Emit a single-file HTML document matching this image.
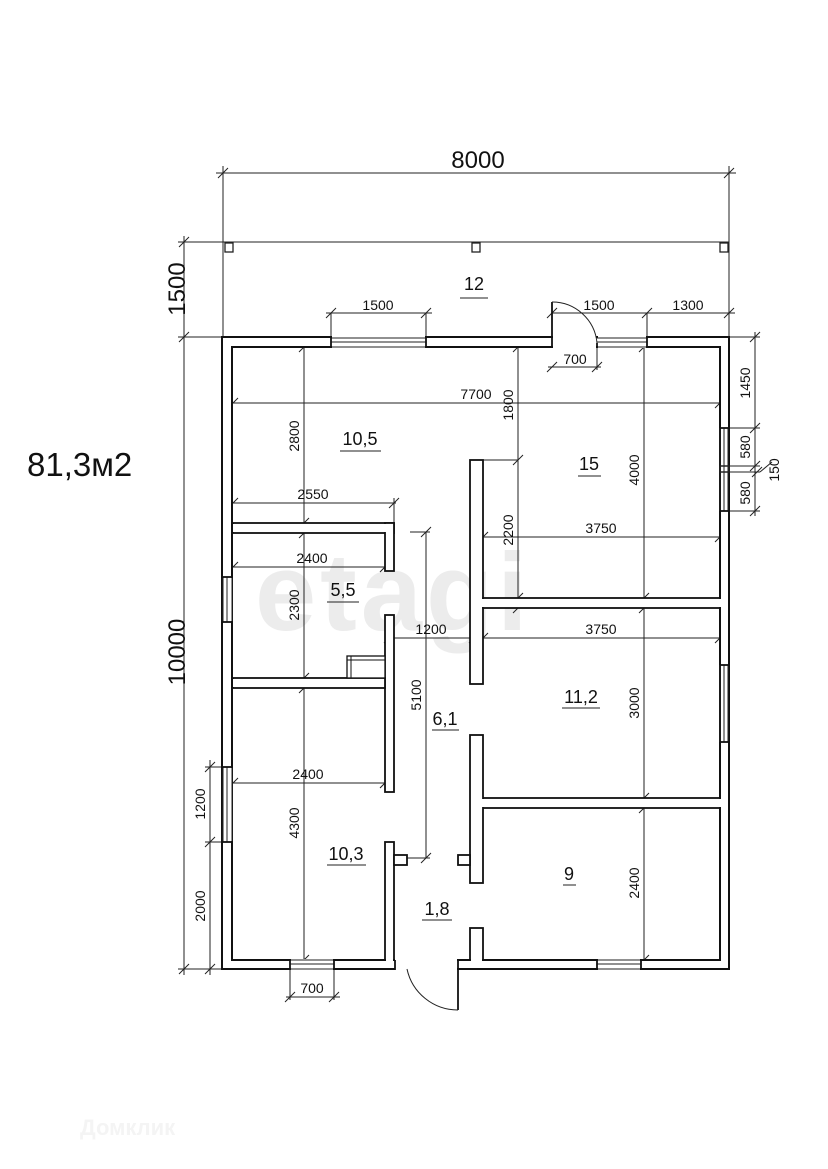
<!DOCTYPE html>
<html><head><meta charset="utf-8"><style>
html,body{margin:0;padding:0;background:#fff;}
svg{display:block;}
text{font-family:"Liberation Sans",Arial,sans-serif;fill:#111;}
</style></head><body>
<svg width="828" height="1169" viewBox="0 0 828 1169" xmlns="http://www.w3.org/2000/svg">
<!-- watermark -->
<text x="255" y="630" font-size="110" font-weight="bold" style="fill:#ececec" letter-spacing="4">etagi</text>
<text x="80" y="1135" font-size="22" font-weight="bold" style="fill:#f4f4f4">Домклик</text>

<text x="27" y="476" font-size="33">81,3м2</text>

<g stroke="#222" stroke-width="1" fill="none">
<!-- 8000 -->
<line x1="216" y1="173" x2="736" y2="173"/>
<line x1="223" y1="166" x2="223" y2="337"/>
<line x1="729" y1="166" x2="729" y2="337"/>
<line x1="218" y1="178" x2="228" y2="168"/><line x1="724" y1="178" x2="734" y2="168"/>
<!-- post line -->
<line x1="178" y1="242" x2="729" y2="242"/>
<!-- 1500 left -->
<line x1="184" y1="236" x2="184" y2="345"/>
<line x1="179" y1="247" x2="189" y2="237"/><line x1="179" y1="342" x2="189" y2="332"/>
<line x1="178" y1="337" x2="222" y2="337"/>
<!-- 10000 -->
<line x1="184" y1="337" x2="184" y2="975"/>
<line x1="179" y1="974" x2="189" y2="964"/>
<line x1="178" y1="969" x2="222" y2="969"/>
<!-- 1200 / 2000 left -->
<line x1="210" y1="760" x2="210" y2="975"/>
<line x1="205" y1="772" x2="215" y2="762"/><line x1="205" y1="847" x2="215" y2="837"/><line x1="205" y1="974" x2="215" y2="964"/>
<line x1="205" y1="767" x2="223" y2="767"/><line x1="205" y1="842" x2="223" y2="842"/>
<!-- top 1500 -->
<line x1="326" y1="313" x2="432" y2="313"/>
<line x1="331" y1="313" x2="331" y2="337"/><line x1="426" y1="313" x2="426" y2="337"/>
<line x1="326" y1="318" x2="336" y2="308"/><line x1="421" y1="318" x2="431" y2="308"/>
<!-- 1500 / 1300 right -->
<line x1="552" y1="313" x2="735" y2="313"/>
<line x1="647" y1="313" x2="647" y2="337"/>
<line x1="547" y1="318" x2="557" y2="308"/><line x1="642" y1="318" x2="652" y2="308"/><line x1="724" y1="318" x2="734" y2="308"/>
<!-- 700 door -->
<line x1="548" y1="367" x2="601" y2="367"/>
<line x1="597" y1="343" x2="597" y2="370"/>
<line x1="547" y1="372" x2="557" y2="362"/><line x1="592" y1="372" x2="602" y2="362"/>
<!-- right side dims -->
<line x1="729" y1="337" x2="760" y2="337"/>
<line x1="755" y1="332" x2="755" y2="516"/>
<line x1="729" y1="428" x2="760" y2="428"/><line x1="729" y1="466" x2="760" y2="466"/><line x1="729" y1="472" x2="760" y2="472"/><line x1="729" y1="511" x2="760" y2="511"/>
<line x1="750" y1="342" x2="760" y2="332"/><line x1="750" y1="433" x2="760" y2="423"/><line x1="750" y1="471" x2="760" y2="461"/><line x1="752" y1="477" x2="762" y2="467"/><line x1="750" y1="516" x2="760" y2="506"/>
<line x1="760" y1="472" x2="772" y2="462"/>
<!-- 7700 -->
<line x1="233" y1="403" x2="720" y2="403"/>
<line x1="228" y1="408" x2="238" y2="398"/><line x1="715" y1="408" x2="725" y2="398"/>
<!-- 2800 / 2300 / 4300 at x304 -->
<line x1="304" y1="347" x2="304" y2="960"/>
<line x1="299" y1="352" x2="309" y2="342"/><line x1="299" y1="528" x2="309" y2="518"/><line x1="299" y1="538" x2="309" y2="528"/><line x1="299" y1="683" x2="309" y2="673"/><line x1="299" y1="693" x2="309" y2="683"/><line x1="299" y1="965" x2="309" y2="955"/>
<!-- 1800 / 2200 x518 -->
<line x1="518" y1="347" x2="518" y2="608"/>
<line x1="470" y1="460" x2="518" y2="460"/>
<line x1="513" y1="352" x2="523" y2="342"/><line x1="513" y1="465" x2="523" y2="455"/><line x1="513" y1="603" x2="523" y2="593"/><line x1="513" y1="613" x2="523" y2="603"/>
<!-- 4000 / 3000 / 2400 x644 -->
<line x1="644" y1="347" x2="644" y2="960"/>
<line x1="639" y1="352" x2="649" y2="342"/><line x1="639" y1="603" x2="649" y2="593"/><line x1="639" y1="613" x2="649" y2="603"/><line x1="639" y1="803" x2="649" y2="793"/><line x1="639" y1="813" x2="649" y2="803"/><line x1="639" y1="965" x2="649" y2="955"/>
<!-- 2550 -->
<line x1="233" y1="503" x2="396" y2="503"/>
<line x1="394" y1="498" x2="394" y2="523"/>
<line x1="228" y1="508" x2="238" y2="498"/><line x1="389" y1="508" x2="399" y2="498"/>
<!-- 2400 upper -->
<line x1="233" y1="567" x2="385" y2="567"/>
<line x1="228" y1="572" x2="238" y2="562"/><line x1="380" y1="572" x2="390" y2="562"/>
<!-- 3750 upper -->
<line x1="483" y1="537" x2="720" y2="537"/>
<line x1="478" y1="542" x2="488" y2="532"/><line x1="715" y1="542" x2="725" y2="532"/>
<!-- 1200 / 3750 lower -->
<line x1="389" y1="638" x2="720" y2="638"/>
<line x1="384" y1="643" x2="394" y2="633"/><line x1="469" y1="643" x2="479" y2="633"/><line x1="478" y1="643" x2="488" y2="633"/><line x1="715" y1="643" x2="725" y2="633"/>
<!-- 5100 -->
<line x1="426" y1="532" x2="426" y2="858"/>
<line x1="410" y1="532" x2="430" y2="532"/>
<line x1="407" y1="858" x2="430" y2="858"/>
<line x1="421" y1="537" x2="431" y2="527"/><line x1="421" y1="863" x2="431" y2="853"/>
<!-- 2400 lower -->
<line x1="233" y1="783" x2="385" y2="783"/>
<line x1="228" y1="788" x2="238" y2="778"/><line x1="380" y1="788" x2="390" y2="778"/>
<!-- 700 bottom -->
<line x1="290" y1="969" x2="290" y2="1000"/><line x1="334" y1="969" x2="334" y2="1000"/>
<line x1="286" y1="997" x2="340" y2="997"/>
<line x1="285" y1="1002" x2="295" y2="992"/><line x1="329" y1="1002" x2="339" y2="992"/>
</g>

<!-- posts -->
<g stroke="#222" stroke-width="1.3" fill="#fff">
<rect x="225" y="243" width="8" height="9"/><rect x="472" y="243" width="8" height="9"/><rect x="720" y="243" width="8" height="9"/>
</g>

<!-- outer shell -->
<path d="M222 337 H729 V969 H222 Z M232 347 V960 H720 V347 Z" fill="#fff" fill-rule="evenodd" stroke="#111" stroke-width="2"/>

<g fill="#fff" stroke="none">
<rect x="332" y="336" width="93" height="12"/>
<rect x="553" y="336" width="43" height="12"/>
<rect x="598" y="336" width="48" height="12"/>
<rect x="721" y="429" width="7" height="81"/>
<rect x="721" y="666" width="7" height="75"/>
<rect x="223" y="578" width="9" height="43"/>
<rect x="223" y="768" width="9" height="73"/>
<rect x="291" y="959" width="42" height="11"/>
<rect x="395" y="959" width="62" height="11"/>
<rect x="598" y="959" width="42" height="11"/>
</g>
<g stroke="#222" stroke-width="1" fill="none">
<!-- windows -->
<line x1="331" y1="338" x2="426" y2="338"/><line x1="331" y1="342" x2="426" y2="342"/><line x1="331" y1="347" x2="426" y2="347"/>
<line x1="597" y1="338" x2="647" y2="338"/><line x1="597" y1="342" x2="647" y2="342"/><line x1="597" y1="347" x2="647" y2="347"/>
<line x1="720" y1="428" x2="720" y2="511"/><line x1="724" y1="428" x2="724" y2="511"/><line x1="728" y1="428" x2="728" y2="511"/>
<rect x="720" y="466" width="9" height="6" stroke-width="1.5"/>
<line x1="720" y1="665" x2="720" y2="742"/><line x1="724" y1="665" x2="724" y2="742"/><line x1="728" y1="665" x2="728" y2="742"/>
<line x1="223" y1="577" x2="223" y2="622"/><line x1="227" y1="577" x2="227" y2="622"/><line x1="232" y1="577" x2="232" y2="622"/>
<line x1="223" y1="767" x2="223" y2="842"/><line x1="227" y1="767" x2="227" y2="842"/><line x1="232" y1="767" x2="232" y2="842"/>
<line x1="290" y1="960" x2="334" y2="960"/><line x1="290" y1="964" x2="334" y2="964"/><line x1="290" y1="969" x2="334" y2="969"/>
<line x1="597" y1="960" x2="641" y2="960"/><line x1="597" y1="964" x2="641" y2="964"/><line x1="597" y1="969" x2="641" y2="969"/>
</g>
<g stroke="#111" stroke-width="1.8" fill="none">
<line x1="222" y1="577" x2="233" y2="577"/><line x1="222" y1="622" x2="233" y2="622"/>
<line x1="222" y1="767" x2="233" y2="767"/><line x1="222" y1="842" x2="233" y2="842"/>
<line x1="720" y1="428" x2="729" y2="428"/><line x1="720" y1="511" x2="729" y2="511"/>
<line x1="720" y1="665" x2="729" y2="665"/><line x1="720" y1="742" x2="729" y2="742"/>
<line x1="331" y1="337" x2="331" y2="348"/><line x1="426" y1="337" x2="426" y2="348"/>
<line x1="647" y1="337" x2="647" y2="348"/>
<line x1="290" y1="959" x2="290" y2="970"/><line x1="334" y1="959" x2="334" y2="970"/>
<line x1="597" y1="959" x2="597" y2="970"/><line x1="641" y1="959" x2="641" y2="970"/>
<!-- top door -->
<line x1="552" y1="302" x2="552" y2="348"/>
<line x1="597" y1="343" x2="597" y2="348"/>
<line x1="395" y1="960" x2="395" y2="970"/><line x1="458" y1="960" x2="458" y2="970"/>
<!-- bottom door leaf -->
<line x1="458" y1="969" x2="458" y2="1010"/>
</g>
<g stroke="#222" stroke-width="1" fill="none">
<path d="M552 302 A45 45 0 0 1 597 343"/>
<path d="M407 969 A52 52 0 0 0 458 1010"/>
</g>

<!-- interior walls -->
<g stroke="#111" stroke-width="1.8" fill="#fff">
<rect x="233" y="523" width="161" height="10"/>
<rect x="385" y="523" width="9" height="48"/>
<rect x="470" y="460" width="13" height="224"/>
<rect x="483" y="598" width="237" height="10"/>
<rect x="483" y="798" width="237" height="10"/>
<rect x="470" y="735" width="13" height="148"/>
<rect x="470" y="928" width="13" height="32"/>
<rect x="385" y="615" width="9" height="177"/>
<rect x="233" y="678" width="152" height="10"/>
<rect x="385" y="842" width="9" height="118"/>
<rect x="394" y="855" width="13" height="10"/>
<rect x="458" y="855" width="12" height="10"/>
<rect x="347" y="656" width="38" height="22" stroke-width="1.3"/>
</g>
<g stroke="#111" stroke-width="1" fill="none">
<line x1="351" y1="656" x2="351" y2="678"/><line x1="347" y1="660" x2="385" y2="660"/>
</g>
<!-- cover seams -->
<g fill="#fff">
<rect x="233" y="524" width="2" height="8"/>
<rect x="384" y="524" width="2" height="8"/>
<rect x="233" y="679" width="2" height="8"/>
<rect x="471" y="599" width="13" height="8"/>
<rect x="471" y="799" width="13" height="8"/>
<rect x="719" y="599" width="2" height="8"/>
<rect x="719" y="799" width="2" height="8"/>
<rect x="386" y="959" width="7" height="2"/>
<rect x="471" y="959" width="11" height="2"/>
</g>

<!-- labels -->
<g font-size="14" text-anchor="middle">
<text x="478" y="168" font-size="24">8000</text>
<text x="378" y="310">1500</text>
<text x="599" y="310">1500</text>
<text x="688" y="310">1300</text>
<text x="575" y="364">700</text>
<text x="476" y="399">7700</text>
<text x="313" y="499">2550</text>
<text x="312" y="563">2400</text>
<text x="601" y="533">3750</text>
<text x="431" y="634">1200</text>
<text x="601" y="634">3750</text>
<text x="308" y="779">2400</text>
<text x="312" y="993">700</text>
</g>
<g font-size="14" text-anchor="middle">
<text transform="translate(299,436) rotate(-90)">2800</text>
<text transform="translate(299,605) rotate(-90)">2300</text>
<text transform="translate(299,823) rotate(-90)">4300</text>
<text transform="translate(513,405) rotate(-90)">1800</text>
<text transform="translate(513,530) rotate(-90)">2200</text>
<text transform="translate(639,470) rotate(-90)">4000</text>
<text transform="translate(639,703) rotate(-90)">3000</text>
<text transform="translate(639,883) rotate(-90)">2400</text>
<text transform="translate(421,695) rotate(-90)">5100</text>
<text transform="translate(750,383) rotate(-90)">1450</text>
<text transform="translate(750,447) rotate(-90)">580</text>
<text transform="translate(750,493) rotate(-90)">580</text>
<text transform="translate(779,470) rotate(-90)">150</text>
<text transform="translate(205,804) rotate(-90)">1200</text>
<text transform="translate(205,906) rotate(-90)">2000</text>
<text transform="translate(185,289) rotate(-90)" font-size="24">1500</text>
<text transform="translate(185,652) rotate(-90)" font-size="24">10000</text>
</g>
<g font-size="18" text-anchor="middle">
<text x="474" y="290">12</text>
<text x="360" y="445">10,5</text>
<text x="589" y="470">15</text>
<text x="343" y="596">5,5</text>
<text x="445" y="725">6,1</text>
<text x="581" y="703">11,2</text>
<text x="346" y="860">10,3</text>
<text x="569" y="880">9</text>
<text x="437" y="915">1,8</text>
</g>
<g stroke="#222" stroke-width="1">
<line x1="460" y1="298" x2="488" y2="298"/>
<line x1="340" y1="451" x2="381" y2="451"/>
<line x1="578" y1="476" x2="601" y2="476"/>
<line x1="327" y1="602" x2="359" y2="602"/>
<line x1="432" y1="730" x2="459" y2="730"/>
<line x1="562" y1="708" x2="600" y2="708"/>
<line x1="327" y1="865" x2="366" y2="865"/>
<line x1="563" y1="885" x2="576" y2="885"/>
<line x1="422" y1="920" x2="452" y2="920"/>
</g>
</svg>
</body></html>
